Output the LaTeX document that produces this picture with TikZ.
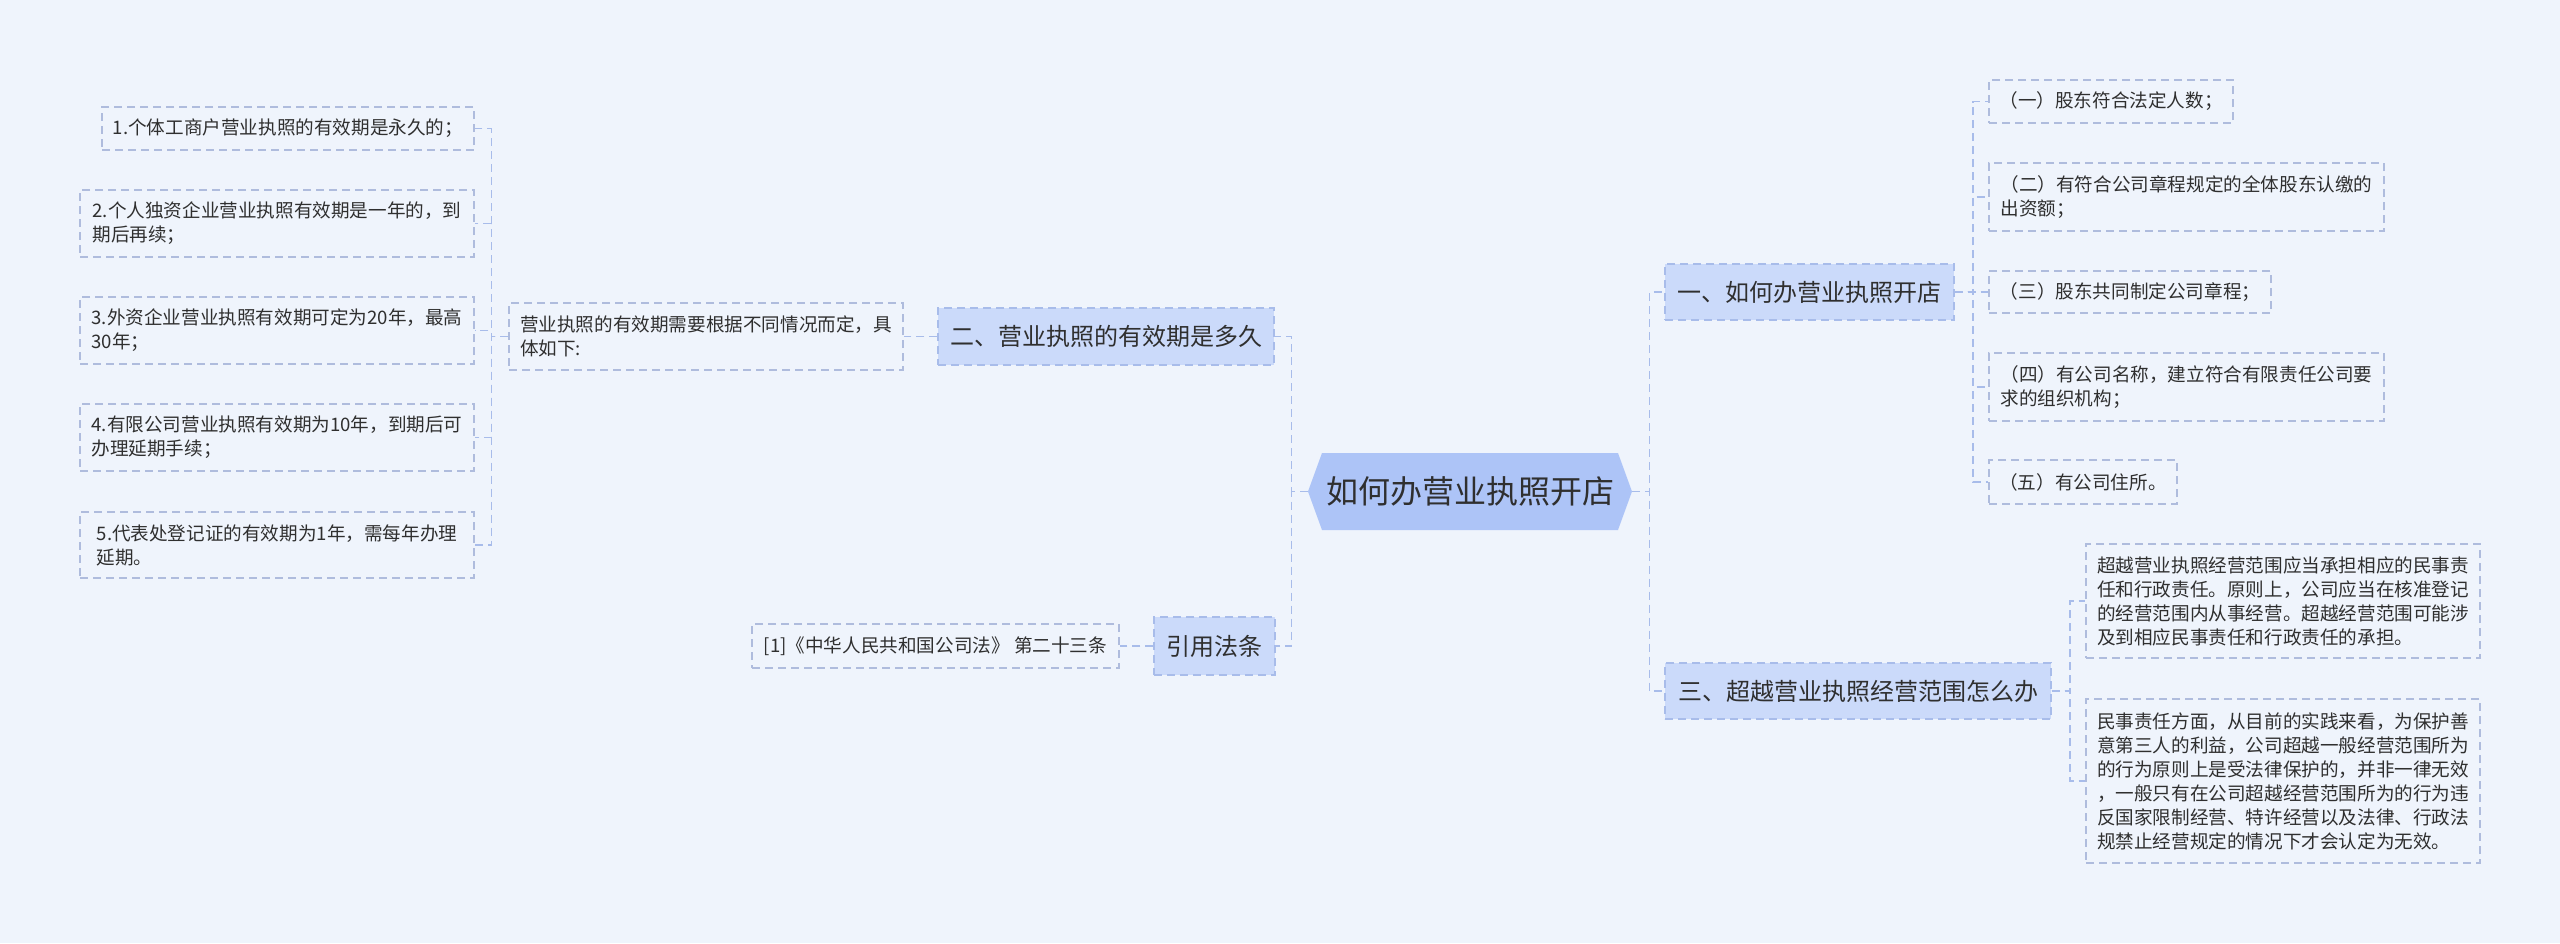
\documentclass[tikz,border=0pt]{standalone}
\usepackage{fontspec}
\setmainfont{Noto Sans CJK SC}
\usepackage{xcolor}
\usepackage{tikz}
\usetikzlibrary{calc,positioning}
\definecolor{bgx}{HTML}{EFF4FC}
\definecolor{hubx}{HTML}{ADC4F7}
\definecolor{topicx}{HTML}{CBDAFA}
\definecolor{linex}{HTML}{A8BCEA}
\definecolor{edgex}{HTML}{AFBCDD}
\definecolor{inkx}{HTML}{2F2F2F}
\tikzset{
  link/.style={draw=linex,line width=0.8pt,dash pattern=on 4pt off 2.5pt},
  leaf/.style={draw=edgex,line width=0.7pt,dash pattern=on 4pt off 2.5pt,align=left,text=inkx,
    font=\fontsize{9.3}{12}\selectfont,inner xsep=4pt},
  topic/.style={draw=linex,fill=topicx,line width=0.7pt,dash pattern=on 4pt off 2.5pt,text=inkx,
    font=\fontsize{12}{14}\selectfont,inner xsep=4pt}
}
\begin{document}
\begin{tikzpicture}[x=0.5pt,y=-0.5pt]
\fill[bgx] (0,0) rectangle (2560,943);
\useasboundingbox (0,0) rectangle (2560,943);
% centre
\fill[hubx] (1308,491.5) -- (1322,453) -- (1618,453) -- (1632,491.5) -- (1618,530) -- (1322,530) -- cycle;
\node[text=inkx,font=\fontsize{16}{18}\selectfont,minimum width=162pt,minimum height=38.5pt] (root) at (1470,491.5) {如何办营业执照开店};
% topics
\node[topic,minimum width=144.5pt,minimum height=28pt] (t1) at (1809.5,292) {一、如何办营业执照开店};
\node[topic,minimum width=193pt,minimum height=28pt] (t3) at (1858,691) {三、超越营业执照经营范围怎么办};
\node[topic,minimum width=168pt,minimum height=28.5pt] (t2) at (1106,336.5) {二、营业执照的有效期是多久};
\node[topic,minimum width=60.5pt,minimum height=29pt] (t4) at (1214.5,646) {引用法条};
% right leaves
\node[leaf,minimum width=122pt,minimum height=21.5pt] (r1) at (2111,101.5) {（一）股东符合法定人数；};
\node[leaf,minimum width=197.5pt,minimum height=34pt] (r2) at (2186.5,197) {（二）有符合公司章程规定的全体股东认缴的\\出资额；};
\node[leaf,minimum width=141pt,minimum height=21pt] (r3) at (2130,292) {（三）股东共同制定公司章程；};
\node[leaf,minimum width=197.5pt,minimum height=34pt] (r4) at (2186.5,387) {（四）有公司名称，建立符合有限责任公司要\\求的组织机构；};
\node[leaf,minimum width=94pt,minimum height=22pt] (r5) at (2083,482) {（五）有公司住所。};
\node[leaf,minimum width=197pt,minimum height=57pt] (s1) at (2283,601) {超越营业执照经营范围应当承担相应的民事责\\任和行政责任。原则上，公司应当在核准登记\\的经营范围内从事经营。超越经营范围可能涉\\及到相应民事责任和行政责任的承担。};
\node[leaf,minimum width=197pt,minimum height=82pt] (s2) at (2283,781) {民事责任方面，从目前的实践来看，为保护善\\意第三人的利益，公司超越一般经营范围所为\\的行为原则上是受法律保护的，并非一律无效\\，一般只有在公司超越经营范围所为的行为违\\反国家限制经营、特许经营以及法律、行政法\\规禁止经营规定的情况下才会认定为无效。};
% left leaves
\node[leaf,minimum width=197pt,minimum height=33.5pt] (desc) at (706,336.5) {营业执照的有效期需要根据不同情况而定，具\\体如下:};
\node[leaf,minimum width=186pt,minimum height=21.5pt] (l1) at (288,128.5) {1.个体工商户营业执照的有效期是永久的；};
\node[leaf,minimum width=197pt,minimum height=33.5pt] (l2) at (277,223.5) {2.个人独资企业营业执照有效期是一年的，到\\期后再续；};
\node[leaf,minimum width=197pt,minimum height=33.5pt] (l3) at (277,330.5) {3.外资企业营业执照有效期可定为20年，最高\\30年；};
\node[leaf,minimum width=197pt,minimum height=33.5pt] (l4) at (277,437.5) {4.有限公司营业执照有效期为10年，到期后可\\办理延期手续；};
\node[leaf,minimum width=197pt,minimum height=33pt] (l5) at (277,545) {5.代表处登记证的有效期为1年，需每年办理\\延期。};
\node[leaf,minimum width=183.5pt,minimum height=22pt] (ref) at (935.5,646) {[1]《中华人民共和国公司法》 第二十三条};
% connectors
\foreach \t in {t1,t3} \draw[link] (root.east) -- ++(17,0) |- (\t.west);
\foreach \t in {t2,t4} \draw[link] (root.west) -- ++(-16,0) |- (\t.east);
\foreach \r in {r1,r2,r3,r4,r5} \draw[link] (t1.east) -- ++(18,0) |- (\r.west);
\foreach \s in {s1,s2} \draw[link] (t3.east) -- ++(18,0) |- (\s.west);
\foreach \l in {l1,l2,l3,l4,l5} \draw[link] (desc.west) -- ++(-17,0) |- (\l.east);
\draw[link] (t2.west) -- (desc.east);
\draw[link] (t4.west) -- (ref.east);
\end{tikzpicture}
\end{document}
